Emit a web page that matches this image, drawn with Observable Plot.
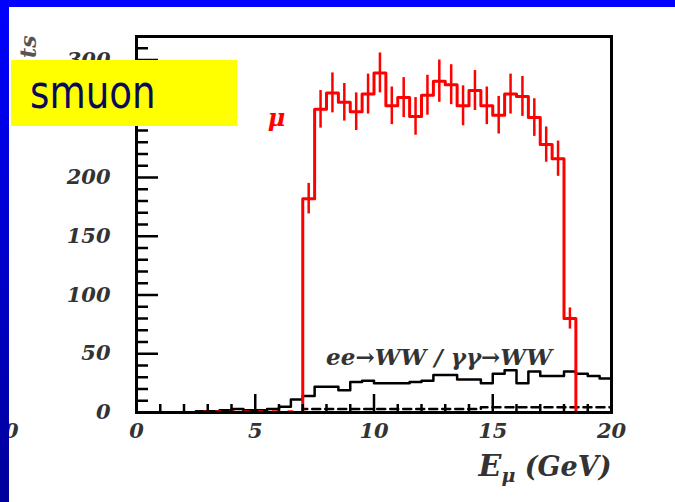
<!DOCTYPE html>
<html><head><meta charset="utf-8">
<script src="https://cdn.jsdelivr.net/npm/d3@7"></script>
<script src="https://cdn.jsdelivr.net/npm/@observablehq/plot@0.6"></script>
<style>
html,body{margin:0;padding:0;background:#fff;width:675px;height:502px;overflow:hidden}
#wrap{position:relative;width:675px;height:502px;background:#fff}
#chart{position:absolute;left:0;top:0}
.bl{position:absolute;left:0;top:0;width:9px;height:502px;background:linear-gradient(#0000ff,#00009a)}
.bt{position:absolute;left:0;top:0;width:675px;height:7px;background:#0000ff}
.box{position:absolute;left:11px;top:60px;width:226px;height:66px;background:#ffff00}
.box span{position:absolute;left:19px;top:8px;font-family:"Liberation Sans Narrow","DejaVu Sans Condensed",sans-serif;font-size:47px;line-height:47px;color:#0a0a5a;transform:scaleX(0.88);transform-origin:0 0;white-space:nowrap}
#frag{position:absolute;left:0;top:0}
</style></head>
<body><div id="wrap"><div id="chart"></div>
<svg id="frag" width="675" height="502">
<text transform="translate(36,58) rotate(-90)" font-family="DejaVu Serif" font-style="italic" font-weight="bold" font-size="22" fill="#555">ts</text>
<text x="4" y="438" font-family="DejaVu Serif" font-style="italic" font-weight="bold" font-size="21" fill="#333">0</text>
</svg>
<div class="box"><span>smuon</span></div>
<div class="bl"></div><div class="bt"></div>
</div>
<script>
// smuon signal (muon energy), 0.5 GeV bins: lower edges, counts, errors
const muonLow    = [7.0,7.5,8.0,8.5,9.0,9.5,10.0,10.5,11.0,11.5,12.0,12.5,13.0,13.5,14.0,14.5,15.0,15.5,16.0,16.5,17.0,17.5,18.0];
const muonCounts = [182,258,272,264,256,271,289,261,268,252,270,282,279,261,274,261,253,271,269,251,228,216,80];
const muonErr    = [13,16,17,16,16,17,17,16,17,16,17,18,17,17,17,16,16,17,17,16,15,15,9];
// small signal entries below threshold
const muonLowE   = [2.95,3.45,4.05,4.65,5.25,5.85,6.5];
// ee->WW / gg->WW background, 0.5 GeV bins
const bgLow    = [0,0.5,1,1.5,2,2.5,3,3.5,4,4.5,5,5.5,6,6.5,7,7.5,8,8.5,9,9.5,10,10.5,11,11.5,12,12.5,13,13.5,14,14.5,15,15.5,16,16.5,17,17.5,18,18.5,19,19.5];
const bgCounts = [0,0,0,0,0,1,1,2,3,2,2,3,5,11,14,22,22,19,26,27,25,25,25,26,27,32,32,28,28,25,33,36,25,35,31,31,35,33,31,29];
// second (dashed) background
const bg2Low    = [7,7.5,8,8.5,9,9.5,10,10.5,11,11.5,12,12.5,13,13.5,14,14.5,15,15.5,16,16.5,17,17.5,18,18.5,19,19.5];
const bg2Counts = [3,3,3,3,3,3,3,3,3,3,3,3,3,3,3,4.5,4.5,4.5,4.5,4.5,4.5,4.5,4.5,4.5,4.5,4.5];
// axis ticks
const yTicks = [0,50,100,150,200,250,300];
const xTicks = [0,5,10,15,20];
const yMinor = d3.range(10,320,10).filter(d=>d%50!==0);
const xMinor = [1,2,3,4,6,7,8,9,11,12,13,14,16,17,18,19];
const xMajor = [5,10,15];
const BW = 0.5;

function steps(lows, counts, endX){
  const pts = [{x:lows[0], y:0}];
  lows.forEach((lo,i)=>{pts.push({x:lo,y:counts[i]},{x:lo+BW,y:counts[i]});});
  pts.push({x:lows[lows.length-1]+BW, y:0});
  if (endX!==undefined) pts.push({x:endX,y:0});
  return pts;
}
const redPts = steps(muonLow, muonCounts, 20);
const bgPts = steps(bgLow, bgCounts);
const bg2Pts = steps(bg2Low, bg2Counts);
const errs = muonLow.map((lo,i)=>({x:lo+BW/2, y1:muonCounts[i]-muonErr[i], y2:muonCounts[i]+muonErr[i]}));

const FW = 675-136-64, FH = 502-36-90;
const lab = {fontFamily:"DejaVu Serif", fontStyle:"italic", fontWeight:"bold", fill:"#333"};
const RED = "#ff0000";

const chart = Plot.plot({
  width:675, height:502, marginLeft:136, marginRight:64, marginTop:36, marginBottom:90,
  x:{domain:[0,20], axis:null}, y:{domain:[0,320], axis:null},
  style:{background:"transparent", overflow:"visible"},
  marks:[
    Plot.line(bgPts, {x:"x", y:"y", stroke:"black", strokeWidth:2.5}),
    Plot.line(bg2Pts, {x:"x", y:"y", stroke:"black", strokeWidth:2.5, strokeDasharray:"8,5"}),
    Plot.ruleY(muonLowE, {y:0.6, x1:d=>d-0.12, x2:d=>d+0.12, stroke:RED, strokeWidth:3}),
    Plot.line(redPts, {x:"x", y:"y", stroke:RED, strokeWidth:3}),
    Plot.ruleX(errs, {x:"x", y1:"y1", y2:"y2", stroke:RED, strokeWidth:2.5}),
    Plot.tickY(yMinor, {y:d=>d, insetRight:FW-12, stroke:"black", strokeWidth:2.5}),
    Plot.tickY(yTicks, {y:d=>d, insetRight:FW-22, stroke:"black", strokeWidth:2.5}),
    Plot.tickX(xMinor, {x:d=>d, insetTop:FH-8, stroke:"black", strokeWidth:2.5}),
    Plot.tickX(xMajor, {x:d=>d, insetTop:FH-18, stroke:"black", strokeWidth:2.5}),
    Plot.frame({stroke:"black", strokeWidth:3}),
    Plot.text(yTicks, {x:0, y:d=>d, text:d=>String(d), textAnchor:"end", dx:-26, fontSize:21, ...lab}),
    Plot.text(xTicks, {x:d=>d, y:0, text:d=>String(d), dy:19, fontSize:21, ...lab}),
    Plot.text(["ee\u2192WW / \u03b3\u03b3\u2192WW"], {x:12.74, y:46.5, text:d=>d, fontSize:23, ...lab}),
    Plot.text(["\u03bc"], {x:5.9, y:250, text:d=>d, fontSize:24, fontFamily:"DejaVu Serif", fontStyle:"italic", fontWeight:"bold", fill:RED}),
    Plot.text(["E"], {frameAnchor:"bottom-right", text:d=>d, textAnchor:"start", lineAnchor:"bottom", dx:-133, dy:63, fontSize:30, ...lab}),
    Plot.text(["\u03bc"], {frameAnchor:"bottom-right", text:d=>d, textAnchor:"start", lineAnchor:"bottom", dx:-110, dy:69, fontSize:19, ...lab}),
    Plot.text(["(GeV)"], {frameAnchor:"bottom-right", text:d=>d, textAnchor:"end", lineAnchor:"bottom", dx:0, dy:63, fontSize:27, ...lab})
  ]
});
document.getElementById("chart").appendChild(chart);
</script>
</body></html>
